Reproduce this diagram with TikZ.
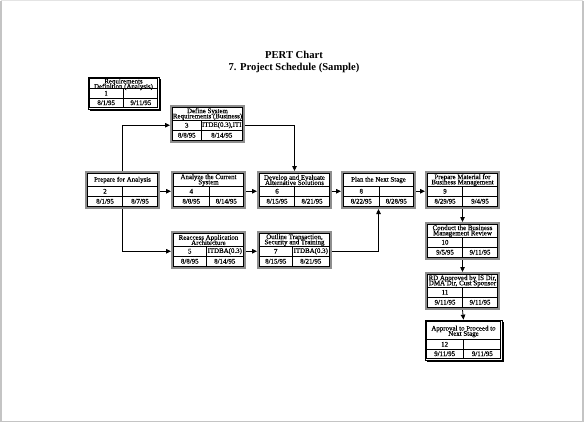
\documentclass[tikz,border=0pt]{standalone}
\usepackage{fontspec}
\setmainfont{Liberation Serif}
\newfontfamily\boxfont[FakeBold=0.5]{Liberation Serif}
\usetikzlibrary{arrows.meta}
\definecolor{frameg}{HTML}{8E8E8E}
\definecolor{pageg}{HTML}{C4C4C4}
\definecolor{pagegl}{HTML}{E4E4E4}
\lineskiplimit=-20pt
\tikzset{
  gframe/.style={draw=frameg, line width=2.5pt, minimum width=72.5pt, minimum height=35.5pt, inner sep=0pt, outer sep=1.25pt},
  mframe/.style={draw=black, fill=white, line width=0.7pt, inner sep=0pt, outer sep=0.35pt},
  gridline/.style={draw=black, line width=0.6pt},
  btext/.style={font=\boxfont\fontsize{6.9}{5.2}\selectfont, align=center, inner sep=0pt},
  titletext/.style={font=\bfseries\fontsize{10.6}{11.5}\selectfont, align=center, inner sep=0pt},
  conn/.style={draw=black, line width=0.8pt, -{Triangle[length=5pt,width=4.5pt]}},
  pageframe/.style={draw=pageg, line width=1.2pt},
  pagetop/.style={draw=pagegl, line width=1pt}
}
% standard task box: name, x0, y0, title, number, resource, start, end, divider offset
\newcommand{\pbox}[9]{%
  \node[gframe] (#1) at ({#2+37.5},{#3+19}) {};
  \draw[gridline] ({#2+2.5},{#3+2.5}) rectangle ({#2+72.5},{#3+35.5})
    ({#2+2.5},{#3+15.5}) -- ({#2+72.5},{#3+15.5})
    ({#2+2.5},{#3+25}) -- ({#2+72.5},{#3+25})
    ({#2+#9},{#3+15.5}) -- ({#2+#9},{#3+35.5});
  \node[btext] (#1-t) at ({#2+37.5},{#3+9}) {#4};
  \node[btext] (#1-n) at ({#2+(2.5+#9)/2},{#3+20.25}) {#5};
  \node[btext] (#1-r) at ({#2+(72.5+#9)/2},{#3+20.25}) {#6};
  \node[btext] (#1-a) at ({#2+(2.5+#9)/2},{#3+30.25}) {#7};
  \node[btext] (#1-b) at ({#2+(72.5+#9)/2},{#3+30.25}) {#8};
}
% milestone box: name, x0, y0, w, h, title, number, start, end
\newcommand{\msbox}[9]{%
  \fill[black] ({#2+1.8},{#3+1.8}) rectangle ({#2+#4+1.8},{#3+#5+1.8});
  \node[mframe, minimum width=#4pt, minimum height=#5pt] (#1) at ({#2+#4/2},{#3+#5/2}) {};
  \draw[gridline] ({#2+1.5},{#3+1.5}) rectangle ({#2+#4-1.5},{#3+#5-1.5})
    ({#2+1.5},{#3+#5-20.5}) -- ({#2+#4-1.5},{#3+#5-20.5})
    ({#2+1.5},{#3+#5-11}) -- ({#2+#4-1.5},{#3+#5-11})
    ({#2+#4/2},{#3+#5-20.5}) -- ({#2+#4/2},{#3+#5-1.5});
  \node[btext] (#1-t) at ({#2+#4/2},{#3+(#5-19)/2+1}) {#6};
  \node[btext] (#1-n) at ({#2+#4/4+0.4},{#3+#5-15.75}) {#7};
  \node[btext] (#1-a) at ({#2+#4/4+0.4},{#3+#5-6.25}) {#8};
  \node[btext] (#1-b) at ({#2+3*#4/4-0.4},{#3+#5-6.25}) {#9};
}
\begin{document}
\begin{tikzpicture}[x=1pt,y=-1pt]
\useasboundingbox (0,0) rectangle (585,423);
\coordinate (pTL) at (1,0.5);
\coordinate (pTR) at (583,0.5);
\coordinate (pBR) at (583,421.5);
\coordinate (pBL) at (1,421.5);
\draw[pagetop] (pTL) -- (pTR);
\draw[pageframe] (pTL) -- (pBL) -- (pBR) -- (pTR);

\node[titletext] (title) at (294,61.7) {PERT Chart\\7. Project Schedule (Sample)};

\msbox{b1}{88}{77}{71}{32}{Requirements\\Definition (Analysis)}{1}{8/1/95}{9/11/95}
\pbox{b2}{85}{171}{Prepare for Analysis}{2}{}{8/1/95}{8/7/95}{37.5}
\pbox{b3}{170}{105}{Define System\\Requirements (Business)}{3}{ITDE(0.3),ITI}{8/8/95}{8/14/95}{31}
\pbox{b4}{171}{171}{Analyze the Current\\System}{4}{}{8/8/95}{8/14/95}{38}
\pbox{b5}{171}{231}{Reaccess Application\\Architecture}{5}{ITDBA(0.3)}{8/8/95}{8/14/95}{35}
\pbox{b6}{257}{171}{Develop and Evaluate\\Alternative Solutions}{6}{}{8/15/95}{8/21/95}{37.5}
\pbox{b7}{257}{231}{Outline Transaction,\\Security and Training}{7}{ITDBA(0.3)}{8/15/95}{8/21/95}{35}
\pbox{b8}{341}{171}{Plan the Next Stage}{8}{}{8/22/95}{8/28/95}{38}
\pbox{b9}{425}{171}{Prepare Material for\\Business Management}{9}{}{8/29/95}{9/4/95}{37.5}
\pbox{b10}{425}{222}{Conduct the Business\\Management Review}{10}{}{9/5/95}{9/11/95}{37.5}
\pbox{b11}{425}{272}{RD Approved by IS Dir,\\DMA Dir, Cust Sponsor}{11}{}{9/11/95}{9/11/95}{37.5}
\msbox{b12}{425}{320}{77}{40}{Approval to Proceed to\\Next Stage}{12}{9/11/95}{9/11/95}

\draw[conn] (b2.north) |- (b3.west |- b3-n);
\draw[conn] (b2.south) |- (b5.west |- b5-n);
\draw[conn] (b2.east |- b2-n) -- (b4.west |- b4-n);
\draw[conn] (b4.east |- b4-n) -- (b6.west |- b6-n);
\draw[conn] (b6.east |- b6-n) -- (b8.west |- b8-n);
\draw[conn] (b8.east |- b8-n) -- (b9.west |- b9-n);
\draw[conn] (b3.east |- b3-n) -| (b6.north);
\draw[conn] (b5.east |- b5-n) -- (b7.west |- b7-n);
\draw[conn] (b7.east |- b7-n) -| (b8.south);
\draw[conn] (b9.south) -- (b10.north);
\draw[conn] (b10.south) -- (b11.north);
\draw[conn] (b11.south) -- (b12.north);
\end{tikzpicture}
\end{document}
